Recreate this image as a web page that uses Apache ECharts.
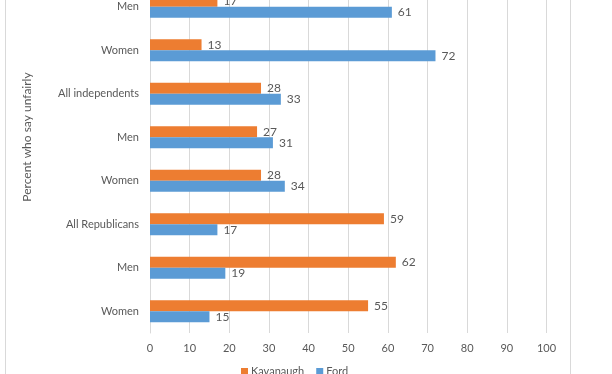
<!DOCTYPE html>
<html>
<head>
<meta charset="utf-8">
<script src="https://cdn.jsdelivr.net/npm/echarts@6/dist/echarts.min.js"></script>
<style>
html,body{margin:0;padding:0;background:#fff;overflow:hidden;width:612px;height:374px;}
#c{width:612px;height:389px;margin-top:-15px;}
</style>
</head>
<body>
<div id="c"></div>
<script>
var categories = ['Men', 'Women', 'All independents', 'Men', 'Women', 'All Republicans', 'Men', 'Women'];
var kavanaugh = [17, 13, 28, 27, 28, 59, 62, 55];
var ford = [61, 72, 33, 31, 34, 17, 19, 15];
var seriesNames = ['Kavanaugh', 'Ford'];
var axisTitle = 'Percent who say unfairly';

var chart = echarts.init(document.getElementById('c'));
var txt = '#595959';
var font = 'Lato, "Open Sans", sans-serif';
chart.setOption({
  animation: false,
  backgroundColor: '#fff',
  grid: {left: 150, right: 65.5, top: 0, bottom: 41, containLabel: false},
  legend: {
    data: seriesNames,
    bottom: -8, left: 236,
    itemWidth: 7, itemHeight: 7, itemGap: 12,
    icon: 'rect',
    textStyle: {color: txt, fontSize: 11, fontFamily: font, padding: [0, 0, 0, -2]}
  },
  xAxis: {
    type: 'value', min: 0, max: 100, interval: 10,
    axisLine: {show: false}, axisTick: {show: false},
    splitLine: {lineStyle: {color: '#d9d9d9', width: 1}},
    axisLabel: {color: txt, fontSize: 11, fontFamily: font, margin: 10}
  },
  yAxis: {
    type: 'category', data: categories, inverse: true,
    axisLine: {lineStyle: {color: '#d9d9d9'}}, axisTick: {show: false},
    axisLabel: {color: txt, fontSize: 11, fontFamily: font, margin: 11}
  },
  graphic: [
    {type: 'rect', shape: {x: 5.5, y: 0, width: 565, height: 400}, style: {fill: 'none', stroke: '#d9d9d9', lineWidth: 1}, z: -1},
    {type: 'text', x: 27, y: 152, rotation: Math.PI / 2,
     style: {text: axisTitle, fill: txt, fontSize: 12, fontFamily: font, textAlign: 'center', textVerticalAlign: 'middle'}}
  ],
  series: [
    {name: seriesNames[0], type: 'bar', data: kavanaugh, barWidth: 11, barGap: '0%',
     itemStyle: {color: '#ED7D31'},
     label: {show: true, position: 'right', distance: 6, color: txt, fontSize: 12, fontFamily: font}},
    {name: seriesNames[1], type: 'bar', data: ford, barWidth: 11, barGap: '0%',
     itemStyle: {color: '#5B9BD5'},
     label: {show: true, position: 'right', distance: 6, color: txt, fontSize: 12, fontFamily: font}}
  ]
});
</script>
</body>
</html>
